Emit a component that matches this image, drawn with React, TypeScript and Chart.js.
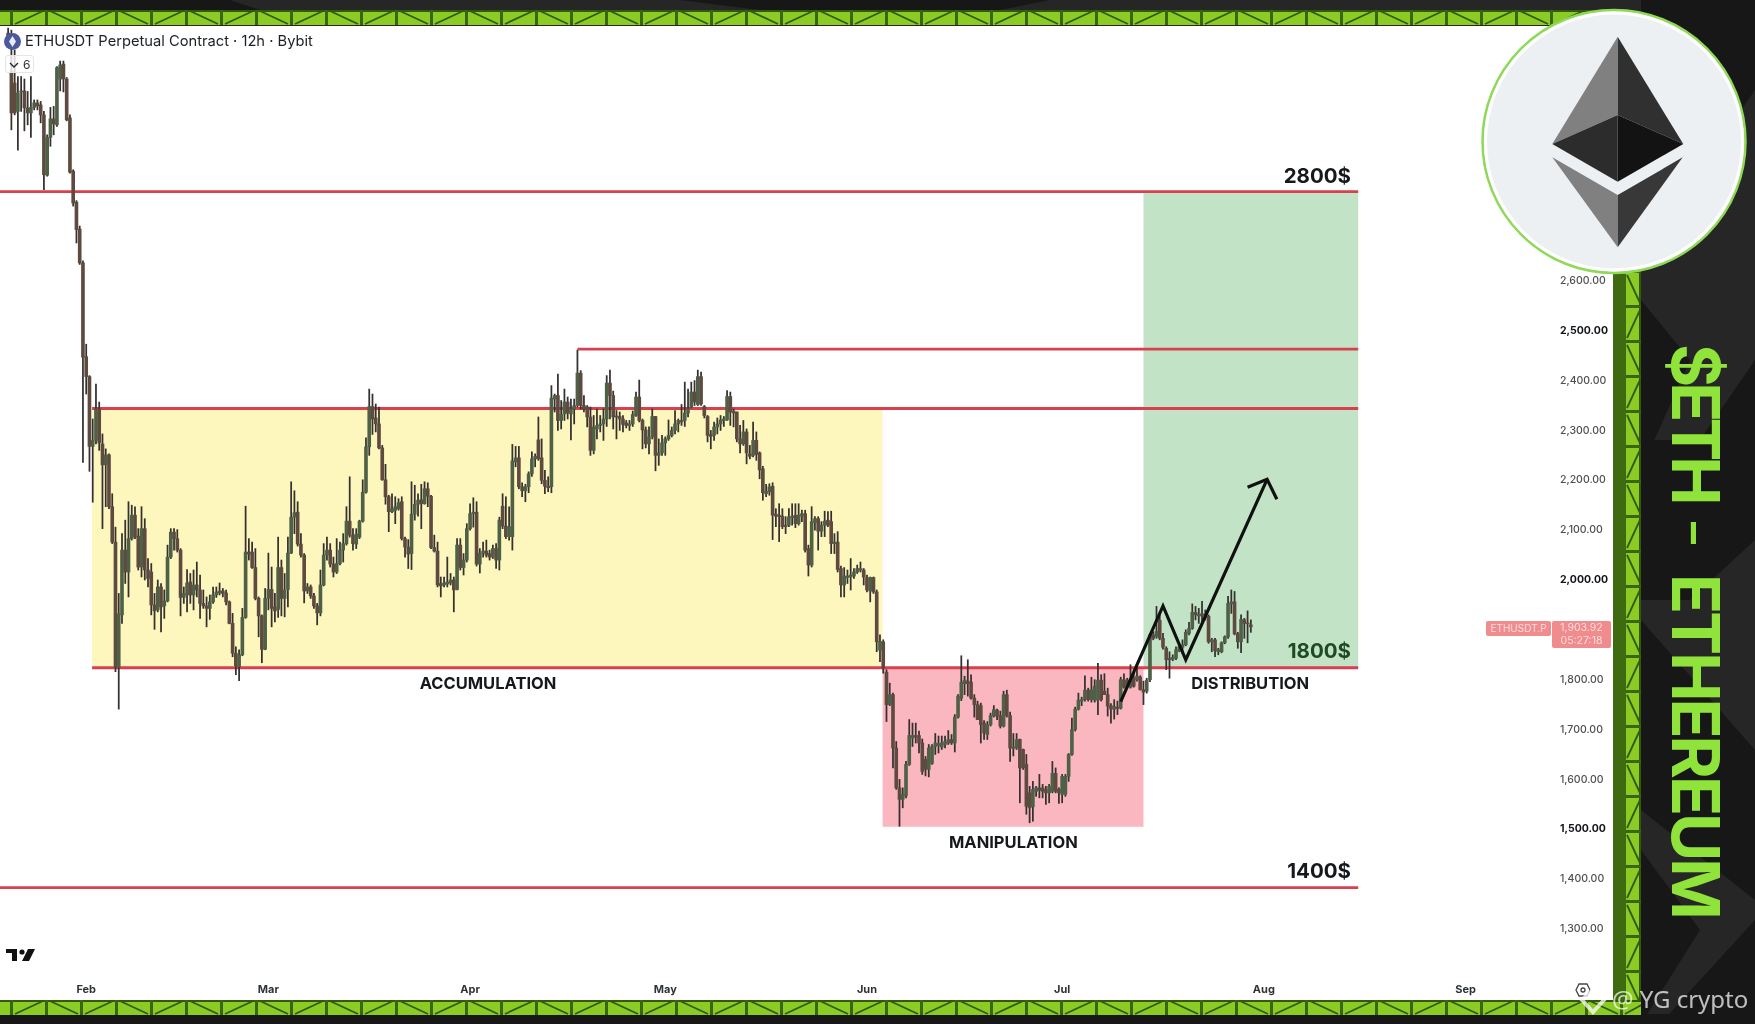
import { useEffect, useRef } from 'react'
import { Chart, registerables } from 'chart.js'

Chart.register(...registerables)

// 12h candles, first one sits at slot 2 of the axis
const firstSlot = 2
const opens = [
  3095,3018,2995,2938,2977,2979,2945,2935,2946,2955,
  2951,2931,2810,2886,2923,2911,3003,3033,3003,2925,
  2818,2756,2702,2634,2446,2406,2266,2278,2341,2271,
  2229,2249,2145,2074,1823,1928,2058,2014,2081,2128,
  2086,2024,2101,2018,2014,1948,1938,1984,1946,1956,
  2044,2094,2081,2058,1963,1968,1994,1968,1988,1978,
  1951,1946,1941,1954,1968,1972,1976,1972,1954,1911,
  1851,1824,1848,1923,2054,2054,2023,1961,1926,1859,
  1961,1979,1944,1939,2023,1961,1979,2052,2124,2134,
  2070,2048,1976,1984,1966,1946,1932,1988,2048,2058,
  2030,2014,2031,2058,2071,2116,2088,2070,2084,2116,
  2174,2265,2346,2323,2311,2263,2199,2165,2135,2138,
  2141,2155,2081,2064,2051,2130,2150,2159,2151,2181,
  2166,2063,2056,1991,1988,1990,1992,1998,1979,2068,
  2023,2038,2101,2131,2134,2030,2052,2056,2051,2044,
  2061,2038,2146,2106,2085,2085,2235,2243,2185,2177,
  2185,2211,2241,2279,2243,2198,2186,2185,2361,2368,
  2318,2331,2355,2331,2341,2348,2413,2348,2345,2325,
  2258,2301,2308,2311,2321,2393,2368,2326,2326,2321,
  2313,2308,2311,2328,2365,2318,2299,2271,2285,2326,
  2248,2253,2273,2281,2288,2298,2311,2318,2318,2333,
  2345,2375,2350,2406,2346,2326,2290,2288,2305,2311,
  2318,2319,2366,2337,2335,2281,2271,2295,2251,2248,
  2278,2253,2221,2171,2175,2186,2130,2128,2126,2108,
  2108,2123,2128,2111,2126,2131,2061,2028,2113,2121,
  2096,2108,2118,2115,2071,2074,2021,1988,2003,2004,
  2006,2014,2018,2018,2003,1976,2003,1974,1857,1874,
  1813,1748,1768,1661,1581,1558,1565,1628,1681,1686,
  1686,1671,1638,1618,1630,1664,1666,1663,1668,1671,
  1678,1671,1723,1761,1790,1795,1793,1761,1748,1746,
  1711,1688,1708,1725,1737,1726,1705,1768,1726,1660,
  1661,1678,1658,1628,1571,1543,1574,1581,1581,1578,
  1571,1574,1610,1578,1568,1568,1604,1648,1698,1739,
  1755,1758,1777,1758,1757,1757,1797,1775,1768,1746,
  1739,1743,1741,1798,1797,1783,1801,1798,1803,1778,
  1775,1798,1888,1885,1917,1881,1861,1841,1839,1841,
  1856,1863,1868,1891,1901,1933,1926,1930,1923,1925,
  1874,1878,1854,1854,1872,1884,1950,1954,1890,1874,
  1918,1911,1908,
]
const closes = [
  3078,2935,2935,2975,2979,2945,2935,2946,2955,2949,
  2931,2811,2886,2923,2913,3026,3031,3003,2921,2816,
  2754,2701,2634,2445,2406,2266,2278,2341,2273,2229,
  2249,2145,2074,1824,1930,2058,2014,2081,2128,2084,
  2024,2101,2018,2001,1948,1936,1984,1944,1956,2044,
  2094,2081,2058,1963,1971,1992,1968,1988,1978,1951,
  1946,1941,1954,1968,1974,1976,1971,1954,1911,1851,
  1826,1848,1923,2054,2050,2023,1961,1926,1859,1961,
  1979,1941,1936,2023,1961,1978,2052,2124,2133,2070,
  2048,1976,1984,1966,1946,1932,1988,2048,2058,2030,
  2014,2031,2058,2071,2116,2088,2071,2090,2116,2174,
  2265,2346,2321,2311,2263,2199,2165,2135,2141,2145,
  2153,2081,2064,2050,2130,2150,2158,2151,2181,2166,
  2063,2056,1988,1986,1992,1994,1998,1978,2068,2023,
  2038,2101,2131,2134,2030,2052,2056,2048,2044,2061,
  2038,2118,2106,2085,2105,2237,2243,2185,2177,2185,
  2211,2241,2246,2241,2198,2186,2183,2363,2368,2318,
  2330,2355,2333,2341,2348,2413,2348,2341,2325,2258,
  2305,2308,2311,2321,2393,2368,2325,2325,2321,2310,
  2308,2311,2330,2365,2318,2299,2271,2285,2326,2248,
  2253,2273,2281,2288,2298,2311,2318,2315,2333,2341,
  2375,2355,2406,2351,2328,2288,2286,2305,2311,2319,
  2321,2366,2335,2333,2281,2271,2295,2253,2246,2278,
  2250,2219,2173,2176,2185,2128,2126,2125,2105,2105,
  2125,2126,2111,2128,2131,2058,2028,2115,2121,2096,
  2108,2116,2108,2071,2074,2019,1988,2006,2006,2008,
  2014,2021,2021,2004,1978,2003,1974,1874,1875,1821,
  1748,1768,1661,1581,1558,1568,1628,1686,1686,1683,
  1671,1614,1618,1661,1664,1671,1670,1671,1674,1678,
  1671,1723,1765,1793,1797,1790,1761,1748,1718,1708,
  1691,1708,1726,1738,1725,1705,1768,1726,1661,1663,
  1678,1621,1621,1544,1541,1578,1581,1576,1574,1571,
  1584,1610,1574,1571,1604,1604,1648,1698,1739,1757,
  1758,1777,1758,1778,1785,1797,1758,1768,1745,1739,
  1744,1740,1798,1783,1786,1798,1785,1805,1778,1773,
  1797,1888,1881,1895,1881,1863,1838,1838,1843,1858,
  1864,1868,1893,1901,1933,1928,1930,1926,1930,1874,
  1878,1856,1858,1872,1884,1951,1954,1890,1874,1919,
  1911,1910,1904,
]
const highs = [
  3105,3101,3061,3008,3008,3003,2978,3008,2961,2961,
  2958,2938,2891,2946,2948,3028,3039,3039,3006,2931,
  2821,2759,2708,2638,2471,2408,2321,2391,2355,2291,
  2261,2251,2171,2104,1971,2091,2118,2155,2148,2145,
  2101,2145,2121,2041,2031,1971,1998,1991,1978,2068,
  2101,2101,2099,2061,1984,2019,2011,2018,2034,2008,
  1978,1964,1968,1984,1984,1992,1981,1978,1956,1931,
  1864,1858,1941,2146,2081,2074,2061,1964,1928,1981,
  2052,2024,1971,2084,2038,2011,2084,2195,2177,2155,
  2091,2051,1991,1988,1971,1951,2018,2071,2084,2071,
  2044,2081,2074,2091,2145,2205,2101,2101,2118,2199,
  2283,2381,2371,2351,2345,2268,2230,2168,2171,2165,
  2161,2165,2084,2079,2195,2188,2171,2190,2195,2193,
  2168,2088,2074,2004,2004,2044,2011,2004,2081,2081,
  2051,2111,2151,2163,2155,2061,2074,2078,2058,2068,
  2071,2124,2171,2165,2145,2270,2266,2266,2193,2190,
  2215,2255,2251,2325,2281,2218,2205,2388,2371,2411,
  2358,2381,2365,2361,2361,2459,2418,2368,2348,2345,
  2328,2341,2328,2341,2408,2419,2377,2338,2335,2328,
  2318,2318,2337,2375,2399,2321,2305,2305,2341,2326,
  2281,2288,2285,2319,2305,2338,2321,2350,2395,2381,
  2395,2398,2419,2415,2348,2328,2298,2315,2323,2328,
  2326,2378,2375,2341,2335,2308,2318,2301,2268,2315,
  2295,2255,2226,2190,2191,2193,2141,2151,2141,2125,
  2141,2151,2151,2151,2138,2138,2068,2145,2125,2125,
  2115,2136,2135,2136,2091,2095,2026,2023,2018,2041,
  2021,2028,2034,2021,2008,2004,2004,1978,1888,1878,
  1818,1791,1771,1674,1598,1581,1634,1718,1711,1711,
  1695,1679,1644,1668,1668,1690,1685,1685,1685,1696,
  1688,1728,1768,1846,1805,1838,1808,1768,1755,1751,
  1716,1714,1731,1746,1739,1735,1775,1777,1733,1690,
  1690,1679,1659,1648,1584,1594,1584,1608,1588,1584,
  1588,1634,1621,1581,1608,1608,1650,1721,1743,1771,
  1763,1806,1781,1803,1798,1831,1808,1810,1781,1750,
  1758,1755,1803,1810,1801,1828,1811,1828,1806,1795,
  1801,1891,1894,1945,1928,1891,1864,1854,1848,1864,
  1871,1878,1898,1913,1950,1945,1941,1955,1938,1928,
  1881,1881,1861,1874,1886,1965,1978,1975,1893,1928,
  1921,1936,1918,
]
const lows = [
  3071,2901,2931,2860,2938,2899,2911,2886,2941,2941,
  2915,2781,2808,2868,2891,2908,2979,2977,2919,2814,
  2748,2674,2631,2234,2371,2216,2154,2271,2258,2101,
  2145,2141,2071,1814,1739,1911,1991,1964,2078,2081,
  2018,2004,1998,1984,1928,1899,1934,1894,1921,1954,
  2041,2058,2054,1926,1951,1934,1951,1938,1964,1921,
  1941,1904,1919,1951,1963,1968,1964,1948,1910,1844,
  1808,1796,1846,1921,2038,2021,1958,1884,1832,1858,
  1938,1904,1914,1923,1926,1924,1944,2051,2091,2066,
  2044,1952,1971,1961,1941,1908,1926,1986,2038,2024,
  2004,2011,2028,2034,2068,2084,2058,2061,2081,2114,
  2172,2248,2290,2295,2261,2198,2150,2095,2133,2111,
  2138,2078,2044,2021,2019,2118,2126,2101,2150,2145,
  2061,2054,1984,1964,1984,1984,1988,1934,1978,2018,
  2008,2034,2098,2104,2026,2012,2044,2044,2038,2041,
  2021,2018,2101,2081,2078,2058,2225,2181,2165,2155,
  2173,2206,2225,2238,2191,2171,2175,2173,2335,2298,
  2301,2318,2321,2279,2311,2345,2341,2335,2305,2248,
  2251,2281,2295,2278,2306,2321,2301,2281,2298,2295,
  2303,2298,2306,2326,2315,2261,2263,2251,2281,2217,
  2228,2248,2248,2278,2285,2291,2295,2308,2306,2325,
  2343,2348,2348,2348,2323,2275,2261,2278,2291,2298,
  2306,2318,2308,2305,2275,2253,2268,2231,2241,2245,
  2238,2201,2158,2165,2168,2079,2105,2075,2101,2091,
  2105,2108,2103,2108,2115,2054,2006,2024,2098,2058,
  2085,2085,2105,2051,2051,2014,1964,1964,1991,1978,
  2001,2011,2014,1988,1974,1954,1971,1854,1834,1811,
  1714,1746,1621,1578,1504,1541,1561,1626,1664,1671,
  1651,1608,1605,1603,1628,1648,1651,1658,1661,1668,
  1668,1653,1721,1756,1768,1765,1759,1723,1718,1671,
  1678,1678,1705,1723,1718,1701,1703,1723,1634,1645,
  1658,1551,1618,1528,1511,1514,1564,1561,1561,1548,
  1551,1571,1571,1550,1551,1564,1594,1646,1695,1737,
  1746,1755,1755,1753,1753,1728,1755,1768,1725,1711,
  1719,1728,1739,1781,1781,1781,1783,1795,1777,1748,
  1771,1794,1878,1881,1878,1859,1818,1801,1836,1838,
  1854,1851,1866,1888,1899,1918,1911,1908,1918,1871,
  1854,1844,1848,1852,1870,1881,1931,1888,1861,1852,
  1881,1872,1893,
]

// the drawn zigzag and its arrow head: axis slot + price
const pathSlots = [344, 357, 364, 389]
const pathPrices = [1754, 1946, 1838, 2200]
const headSlots = [383, 389, 392]
const headPrices = [2184, 2200, 2160]

// zones: slot from, slot to, price top, price bottom
const yellowZone = [27.8, 270.8, 2342, 1822]
const pinkZone = [270.8, 351, 1822, 1503]
const greenZone = [351, 417, 2777, 1822]

// horizontal levels
const levelPrices = [2777, 2461, 2342, 1822, 1381]
const levelStarts = [-0.5, 177, 27.8, 27.8, -0.5]
const levelEnd = 417

const noteTexts = ['2800$', '1800$', '1400$', 'ACCUMULATION', 'MANIPULATION', 'DISTRIBUTION']
const noteSlots = [414.8, 414.8, 414.8, 149.5, 311, 383.8]
const notePrices = [2807, 1854, 1412, 1790, 1471, 1790]

const priceTicks = [2600, 2500, 2400, 2300, 2200, 2100, 2000, 1900, 1800, 1700, 1600, 1500, 1400, 1300]
const monthNames = ['Jan', 'Feb', 'Mar', 'Apr', 'May', 'Jun', 'Jul', 'Aug', 'Sep']
const slotCount = 478
const labels = Array.from({ length: slotCount }, (_, i) =>
  new Date(Date.UTC(2025, 0, 19) + i * 43200000).toISOString().slice(0, 16))

const pad = (a: any[]) => [...Array(firstSlot).fill(null), ...a]
const sparse = (slots: number[], prices: number[]) =>
  labels.map((_, i) => (slots.includes(i) ? prices[slots.indexOf(i)] : null))

const UP = '#4e6146'
const DOWN = '#5f4a40'

const zonesPlugin = {
  id: 'zones',
  beforeDatasetsDraw(chart: any) {
    const { ctx, scales: { x, y } } = chart
    ctx.save()
    const zones: [number[], string][] = [
      [yellowZone, '#fef7bd'],
      [pinkZone, '#fbb7c0'],
      [greenZone, '#c2e3c5'],
    ]
    zones.forEach(([z, color]) => {
      ctx.fillStyle = color
      ctx.fillRect(x.getPixelForValue(z[0]), y.getPixelForValue(z[2]),
        x.getPixelForValue(z[1]) - x.getPixelForValue(z[0]),
        y.getPixelForValue(z[3]) - y.getPixelForValue(z[2]))
    })
    ctx.strokeStyle = '#d8404f'
    ctx.lineWidth = 2.8
    levelPrices.forEach((p, i) => {
      ctx.beginPath()
      ctx.moveTo(x.getPixelForValue(levelStarts[i]), y.getPixelForValue(p))
      ctx.lineTo(x.getPixelForValue(levelEnd), y.getPixelForValue(p))
      ctx.stroke()
    })
    ctx.restore()
  },
  afterDatasetsDraw(chart: any) {
    const { ctx, scales: { x, y } } = chart
    ctx.save()
    ctx.textBaseline = 'middle'
    noteTexts.forEach((t, i) => {
      const price = t.endsWith('$')
      ctx.font = price ? '700 20.5px Inter' : '700 16.5px Inter'
      ctx.textAlign = price ? 'right' : 'center'
      ctx.fillStyle = t === '1800$' ? '#1f4a24' : '#15191c'
      ctx.fillText(t, x.getPixelForValue(noteSlots[i]), y.getPixelForValue(notePrices[i]))
    })
    ctx.restore()
  },
}

// green girder pattern round the chart, only decoration
function Girder({ x, y, length, vertical }: { x: number; y: number; length: number; vertical?: boolean }) {
  const cell = 35
  const depth = 15
  const count = Math.ceil(length / cell)
  const parts = []
  for (let i = 0; i < count; i++) {
    const a = i * cell
    const b = Math.min(a + cell, length)
    const flip = i % 2 === 0
    parts.push(
      <g key={i}>
        <rect x={a + 10} y={0} width={3} height={depth} fill="#3a650c" />
        <line x1={a + 15} y1={flip ? depth - 1 : 1} x2={b + 8} y2={flip ? 1 : depth - 1} stroke="#2f5a10" strokeWidth={1.8} />
      </g>
    )
  }
  return (
    <svg width={vertical ? depth : length} height={vertical ? length : depth}
      style={{ position: 'absolute', left: x, top: y }}>
      <g transform={vertical ? `translate(${depth},0) rotate(90)` : undefined}>
        <rect width={length} height={depth} fill="#8ccb24" />
        <rect width={length} height={2} fill="#33590c" />
        {parts}
      </g>
    </svg>
  )
}

function Backdrop() {
  const darks = [
    '1641,0 1755,0 1755,90 1700,170 1641,120',
    '1641,300 1690,360 1641,470',
    '1641,440 1700,440 1755,360 1755,540 1690,600 1641,600',
    '1641,620 1755,750 1755,900 1641,810',
    '1641,850 1700,930 1641,1024',
    '0,0 230,0 260,10 0,10',
    '680,0 760,10 1000,10 1050,0',
    '1700,980 1755,920 1755,1024 1660,1024',
  ]
  return (
    <svg width={1755} height={1024} style={{ position: 'absolute', left: 0, top: 0 }}>
      <rect width={1755} height={1024} fill="#262627" />
      {darks.map((p, i) => <polygon key={i} points={p} fill="#171718" />)}
      <rect x={0} y={1014} width={1755} height={10} fill="#171718" />
    </svg>
  )
}

function EthBadge() {
  return (
    <svg width={1755} height={1024} style={{ position: 'absolute', left: 0, top: 0 }}>
      <circle cx={1614} cy={141.5} r={131.5} fill="#edf0f3" stroke="#8fd957" strokeWidth={2.5} />
      <circle cx={1614} cy={141.5} r={128.5} fill="none" stroke="#ffffff" strokeWidth={3} />
      <polygon points="1617.7,36.7 1552.3,144 1617.7,115" fill="#808080" />
      <polygon points="1617.7,36.7 1683.3,144 1617.7,115" fill="#303030" />
      <polygon points="1552.3,144 1617.7,115 1617.7,181.7" fill="#2c2c2c" />
      <polygon points="1683.3,144 1617.7,115 1617.7,181.7" fill="#131313" />
      <polygon points="1552.3,157.3 1617.7,195 1617.7,247.3" fill="#808080" />
      <polygon points="1682.7,157.3 1617.7,195 1617.7,247.3" fill="#383838" />
    </svg>
  )
}

const abs = (s: React.CSSProperties): React.CSSProperties => ({ position: 'absolute', ...s })

const sideTitle: React.CSSProperties = {
  position: 'absolute', left: 1663, width: 66, writingMode: 'vertical-rl', fontSize: 66,
  lineHeight: '66px', fontWeight: 700, color: '#8fe33a', whiteSpace: 'nowrap',
}

export default function App() {
  const canvasRef = useRef<HTMLCanvasElement>(null)

  useEffect(() => {
    if (!canvasRef.current) return
    const chart = new Chart(canvasRef.current, {
      type: 'bar',
      data: {
        labels,
        datasets: [
          {
            type: 'line',
            data: sparse(pathSlots, pathPrices),
            borderColor: '#111111',
            borderWidth: 3.2,
            pointRadius: 0,
            spanGaps: true,
            order: 0,
          },
          {
            type: 'line',
            data: sparse(headSlots, headPrices),
            borderColor: '#111111',
            borderWidth: 3.2,
            pointRadius: 0,
            spanGaps: true,
            order: 0,
          },
          {
            data: pad(opens.map((o, i) => [o, closes[i]])),
            backgroundColor: pad(opens.map((o, i) => (closes[i] >= o ? UP : DOWN))),
            barThickness: 3,
            minBarLength: 1,
            grouped: false,
            order: 1,
          },
          {
            data: pad(lows.map((l, i) => [l, highs[i]])),
            backgroundColor: '#353130',
            barThickness: 1.1,
            grouped: false,
            order: 2,
          },
        ] as any,
      },
      options: {
        responsive: true,
        maintainAspectRatio: false,
        animation: false,
        events: [],
        layout: { padding: 0 },
        plugins: { legend: { display: false }, tooltip: { enabled: false } },
        scales: {
          x: {
            grid: { display: false, drawTicks: false },
            border: { display: false },
            afterFit: (s: any) => { s.height = 22; s.paddingLeft = 0; s.paddingRight = 0 },
            ticks: {
              autoSkip: false,
              maxRotation: 0,
              padding: 5,
              color: '#2f3336',
              font: { family: 'Inter', size: 11, weight: 700 },
              callback: (_v: any, i: number) =>
                labels[i].endsWith('-01T00:00') ? monthNames[Number(labels[i].slice(5, 7)) - 1] : '',
            },
          },
          y: {
            position: 'right',
            min: 1199.6,
            max: 3109.3,
            grid: { display: false, drawTicks: false },
            border: { display: false },
            afterBuildTicks: (s: any) => { s.ticks = priceTicks.map(value => ({ value })) },
            afterFit: (s: any) => { s.width = 58; s.paddingTop = 0; s.paddingBottom = 0 },
            ticks: {
              padding: 5,
              autoSkip: false,
              labelOffset: 1,
              color: (c: any) => (c.tick.value % 500 === 0 ? '#111418' : '#4c4f52'),
              font: (c: any) => ({ family: 'Inter', size: 10.5, weight: c.tick && c.tick.value % 500 === 0 ? 700 : 500 }),
              callback: (v: any) => Number(v).toLocaleString('en-US', { minimumFractionDigits: 2 }),
            },
          },
        },
      },
      plugins: [zonesPlugin],
    } as any)
    return () => chart.destroy()
  }, [])

  return (
    <div style={{ position: 'fixed', left: 0, top: 0, width: 1755, height: 1024, overflow: 'hidden', fontFamily: 'Inter' }}>
      <Backdrop />
      <div style={abs({ left: 0, top: 26, width: 1613, height: 974, background: '#ffffff' })}>
        <canvas ref={canvasRef} />
      </div>

      <Girder x={0} y={10} length={1600} />
      <Girder x={0} y={1000} length={1641} />
      <div style={abs({ left: 1613, top: 260, width: 14, height: 740, background: '#3f6b10' })} />
      <Girder x={1626} y={260} length={740} vertical />

      {/* header */}
      <div style={abs({ left: 4, top: 33, width: 17, height: 17, borderRadius: 9, background: '#4a5a9c' })} />
      <svg width={17} height={17} style={abs({ left: 4, top: 33 })}>
        <polygon points="8.5,3 12,8.5 8.5,14 5,8.5" fill="#e8ecf5" />
      </svg>
      <div style={abs({ left: 25, top: 32, fontSize: 14.7, lineHeight: '18px', color: '#1c2024', whiteSpace: 'nowrap' })}>
        ETHUSDT Perpetual Contract · 12h · Bybit
      </div>
      <div style={abs({ left: 5, top: 55, width: 29, height: 18, boxSizing: 'border-box', border: '1px solid #e3e5e8', borderRadius: 3, background: 'rgba(255,255,255,0.8)' })} />
      <svg width={10} height={8} style={abs({ left: 9, top: 61 })}>
        <polyline points="1,2 5,6 9,2" fill="none" stroke="#222" strokeWidth={1.3} />
      </svg>
      <div style={abs({ left: 23, top: 57, fontSize: 12, lineHeight: '15px', color: '#33373b' })}>6</div>

      {/* tradingview mark */}
      <svg width={30} height={16} style={abs({ left: 6, top: 947 })}>
        <path d="M0 2h11v12H6V6H0zM23 14l6-12h-7l-6 12z" fill="#111" />
        <circle cx={16} cy={5} r={2.6} fill="#111" />
      </svg>

      {/* last price */}
      <div style={abs({ left: 1486, top: 621, width: 65, height: 15, background: '#f08b8e', borderRadius: 2, color: '#fbdede', fontSize: 10, lineHeight: '15px', textAlign: 'center' })}>
        ETHUSDT.P
      </div>
      <div style={abs({ left: 1552, top: 621, width: 59, height: 27, background: '#f08b8e', borderRadius: 2, color: '#fbdede', fontSize: 10.5, lineHeight: '13px', textAlign: 'center' })}>
        1,903.92<br />05:27:18
      </div>

      <svg width={16} height={16} style={abs({ left: 1575, top: 982 })}>
        <polygon points="4,2 12,2 15,8 12,14 4,14 1,8" fill="none" stroke="#444" strokeWidth={1.3} />
        <circle cx={8} cy={8} r={2} fill="none" stroke="#444" strokeWidth={1.3} />
      </svg>

      <EthBadge />

      {/* side title */}
      <div style={{ ...sideTitle, top: 344, letterSpacing: -5 }}>$ETH</div>
      <div style={{ ...sideTitle, top: 522, fontSize: 44 }}>–</div>
      <div style={{ ...sideTitle, top: 574, letterSpacing: -3 }}>ETHEREUM</div>

      {/* watermark */}
      <svg width={30} height={30} style={abs({ left: 1578, top: 986 })}>
        <polygon points="15,4 26,14 15,26 4,14" fill="none" stroke="rgba(255,255,255,0.75)" strokeWidth={4} />
      </svg>
      <div style={abs({ left: 1612, top: 982, fontFamily: 'Noto Sans', fontSize: 24, lineHeight: '33px', color: 'rgba(255,255,255,0.72)', whiteSpace: 'nowrap' })}>
        @ YG crypto
      </div>
    </div>
  )
}
